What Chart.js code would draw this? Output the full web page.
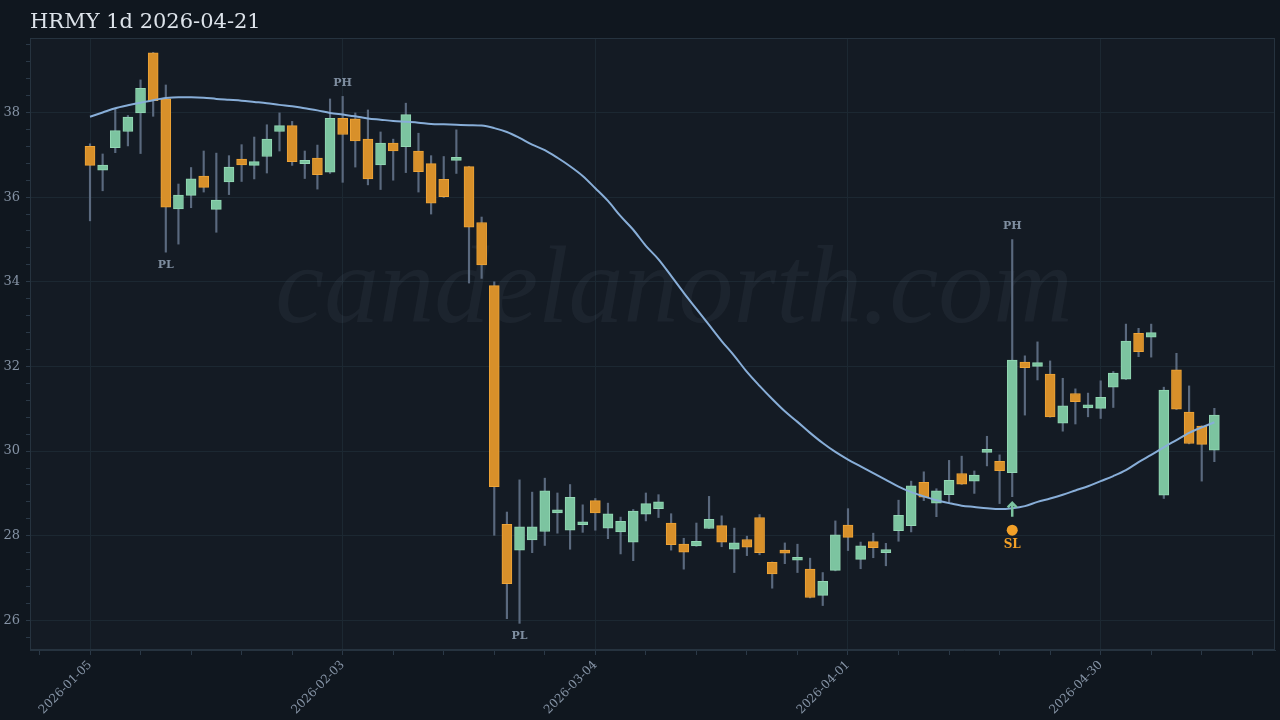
<!DOCTYPE html>
<html>
<head>
<meta charset="utf-8">
<title>HRMY 1d</title>
<script src="https://cdn.jsdelivr.net/npm/chart.js@4.4.1/dist/chart.umd.min.js"></script>
<style>
  html, body { margin: 0; padding: 0; background: #10171f; }
  #wrap { width: 1280px; height: 720px; }
</style>
</head>
<body>
<div id="wrap"><canvas id="chart" width="1280" height="720"></canvas></div>
<script>
// daily candles, index 0 = 2026-01-05 (trading days)
const opens = [
  37.20, 36.64, 37.17, 37.55, 37.99, 39.41, 38.32, 35.72, 36.04, 36.50,
  35.71, 36.36, 36.90, 36.75, 36.96, 37.55, 37.69, 36.79, 36.92, 36.59,
  37.86, 37.85, 37.37, 36.76, 37.28, 37.19, 37.09, 36.79, 36.42, 36.87,
  36.72, 35.40, 33.91, 28.27, 27.66, 27.90, 28.10, 28.54, 28.13, 28.26,
  28.83, 28.18, 28.09, 27.85, 28.51, 28.64, 28.30, 27.80, 27.76, 28.17,
  28.24, 27.68, 27.91, 28.43, 27.37, 27.62, 27.42, 27.21, 26.59, 27.18,
  28.25, 27.44, 27.86, 27.60, 28.12, 28.24, 29.26, 28.77, 28.97, 29.47,
  29.29, 29.97, 29.76, 29.49, 32.10, 32.00, 31.82, 30.66, 31.36, 31.02,
  31.01, 31.51, 31.70, 32.78, 32.69, 28.96, 31.92, 30.92, 30.59, 30.02
];
const highs = [
  37.26, 37.02, 38.09, 37.93, 38.77, 39.42, 38.65, 36.31, 36.70, 37.09,
  37.04, 36.98, 37.24, 37.42, 37.71, 37.99, 37.79, 37.09, 37.23, 38.32,
  38.38, 37.99, 38.06, 37.54, 37.37, 38.22, 37.51, 36.98, 36.96, 37.59,
  36.73, 35.53, 34.00, 28.56, 29.32, 29.03, 29.36, 29.01, 29.21, 28.73,
  28.88, 28.77, 28.44, 28.62, 29.01, 28.97, 28.52, 27.94, 28.30, 28.93,
  28.47, 28.18, 27.99, 28.50, 27.38, 27.83, 27.80, 27.47, 27.13, 28.35,
  28.64, 27.85, 28.06, 27.82, 28.84, 29.29, 29.51, 29.11, 29.78, 29.88,
  29.53, 30.35, 29.91, 35.00, 32.25, 32.58, 32.13, 31.72, 31.47, 31.37,
  31.66, 31.88, 33.00, 32.90, 33.00, 31.51, 32.31, 31.54, 30.60, 31.01
];
const lows = [
  35.44, 36.15, 37.05, 37.21, 37.03, 37.91, 34.70, 34.89, 35.75, 36.12,
  35.17, 36.06, 36.37, 36.43, 36.57, 37.09, 36.75, 36.44, 36.19, 36.56,
  36.35, 36.71, 36.29, 36.18, 36.40, 36.58, 36.12, 35.60, 35.99, 36.56,
  33.97, 34.08, 28.01, 26.04, 25.93, 27.60, 27.77, 28.06, 27.68, 28.08,
  28.13, 27.93, 27.57, 27.41, 28.35, 28.43, 27.66, 27.21, 27.75, 28.17,
  27.74, 27.13, 27.53, 27.55, 26.76, 27.34, 27.13, 26.53, 26.35, 27.17,
  27.65, 27.22, 27.48, 27.29, 27.87, 28.09, 28.83, 28.45, 28.77, 29.21,
  29.00, 29.65, 28.76, 28.92, 30.85, 31.68, 30.80, 30.47, 30.64, 30.81,
  30.77, 31.03, 31.69, 32.23, 32.22, 28.88, 30.98, 30.17, 29.29, 29.75
];
const closes = [
  36.75, 36.76, 37.57, 37.89, 38.57, 38.28, 35.76, 36.05, 36.43, 36.23,
  35.93, 36.71, 36.76, 36.84, 37.37, 37.69, 36.84, 36.87, 36.53, 37.86,
  37.48, 37.33, 36.43, 37.28, 37.09, 37.95, 36.60, 35.86, 36.01, 36.94,
  35.29, 34.40, 29.16, 26.87, 28.21, 28.21, 29.06, 28.57, 28.91, 28.29,
  28.54, 28.52, 28.34, 28.58, 28.76, 28.80, 27.79, 27.61, 27.87, 28.39,
  27.85, 27.83, 27.73, 27.60, 27.10, 27.59, 27.45, 26.54, 26.92, 28.02,
  27.96, 27.76, 27.72, 27.63, 28.48, 29.18, 28.91, 29.06, 29.31, 29.22,
  29.43, 30.00, 29.54, 32.15, 31.97, 32.09, 30.81, 31.07, 31.17, 31.05,
  31.27, 31.84, 32.60, 32.35, 32.80, 31.44, 30.99, 30.18, 30.16, 30.85
];
// moving average
const maLine = [
  37.90, 38.00, 38.10, 38.17, 38.23, 38.29, 38.34, 38.36, 38.36, 38.35,
  38.32, 38.30, 38.28, 38.25, 38.22, 38.18, 38.15, 38.10, 38.05, 37.99,
  37.95, 37.91, 37.86, 37.83, 37.80, 37.78, 37.76, 37.73, 37.72, 37.71,
  37.70, 37.69, 37.63, 37.54, 37.40, 37.24, 37.11, 36.93, 36.73, 36.50,
  36.21, 35.91, 35.55, 35.23, 34.85, 34.53, 34.14, 33.74, 33.36, 32.98,
  32.60, 32.25, 31.87, 31.54, 31.23, 30.94, 30.69, 30.43, 30.19, 29.98,
  29.80, 29.64, 29.48, 29.32, 29.16, 29.03, 28.93, 28.84, 28.77, 28.71,
  28.68, 28.65, 28.63, 28.65, 28.70, 28.80, 28.88, 28.97, 29.07, 29.17,
  29.29, 29.41, 29.55, 29.74, 29.91, 30.09, 30.26, 30.43, 30.56, 30.68
];

const majorTickIdx = [0, 20, 40, 60, 80];
const majorTickLabels = ["2026-01-05", "2026-02-03", "2026-03-04", "2026-04-01", "2026-04-30"];
const xTickIdx = [-4, 0, 4, 8, 12, 16, 20, 24, 28, 32, 36, 40, 44, 48, 52, 56, 60, 64, 68, 72, 76, 80, 84, 88, 92];
const yMajorTicks = [26, 28, 30, 32, 34, 36, 38];

const pivots = [
  { i: 6, type: "PL" },
  { i: 20, type: "PH" },
  { i: 34, type: "PL" },
  { i: 73, type: "PH" }
];
const stopLoss = { i: 73, price: 28.13 };

const UP = "#7cc4a0", UP_EDGE = "#93d8b4";
const DOWN = "#d8902a", DOWN_EDGE = "#eea437";
const GRID = "#1c2832";
const TEXT = "#8593a5";

const isUp = opens.map((o, i) => closes[i] >= o);

// backgrounds, frame and watermark
const backdrop = {
  id: "backdrop",
  beforeDraw(chart) {
    const { ctx, chartArea: a } = chart;
    ctx.save();
    ctx.fillStyle = "#10171f";
    ctx.fillRect(0, 0, chart.width, chart.height);
    ctx.fillStyle = "#141b24";
    ctx.fillRect(a.left, a.top, a.right - a.left, a.bottom - a.top);
    ctx.fillStyle = "#dde3ea";
    ctx.font = '21px "DejaVu Serif"';
    ctx.textBaseline = "alphabetic";
    ctx.fillText("HRMY 1d 2026-04-21", a.left, 28);
    ctx.restore();
  },
  beforeDatasetsDraw(chart) {
    const { ctx, chartArea: a } = chart;
    ctx.save();
    ctx.beginPath();
    ctx.rect(a.left, a.top, a.right - a.left, a.bottom - a.top);
    ctx.clip();
    ctx.fillStyle = "rgba(200,215,230,0.05)";
    ctx.font = 'italic 110px "Liberation Serif"';
    ctx.textAlign = "center";
    ctx.fillText("candelanorth.com", 674, 322);
    ctx.restore();
    ctx.save();
    ctx.strokeStyle = "#26333f";
    ctx.lineWidth = 1;
    ctx.strokeRect(a.left + 0.5, a.top + 0.5, a.right - a.left - 1, a.bottom - a.top - 1);
    ctx.restore();
  }
};

// PH / PL labels and the stop-loss marker
const marks = {
  id: "marks",
  afterDatasetsDraw(chart) {
    const { ctx } = chart;
    const xs = chart.scales.x, ys = chart.scales.y;
    ctx.save();
    ctx.textAlign = "center";
    ctx.textBaseline = "middle";
    ctx.font = 'bold 11px "DejaVu Serif"';
    ctx.fillStyle = "#7f8ea0";
    pivots.forEach(p => {
      const x = xs.getPixelForValue(p.i);
      if (p.type === "PH") ctx.fillText("PH", x, ys.getPixelForValue(highs[p.i]) - 13);
      else ctx.fillText("PL", x, ys.getPixelForValue(lows[p.i]) + 13);
    });

    const x = xs.getPixelForValue(stopLoss.i);
    const yl = ys.getPixelForValue(lows[stopLoss.i]);
    ctx.strokeStyle = UP;
    ctx.lineWidth = 2.5;
    ctx.beginPath();
    ctx.moveTo(x, yl + 20);
    ctx.lineTo(x, yl + 6);
    ctx.moveTo(x - 4.5, yl + 10.5);
    ctx.lineTo(x, yl + 6);
    ctx.lineTo(x + 4.5, yl + 10.5);
    ctx.stroke();

    const ys2 = ys.getPixelForValue(stopLoss.price);
    ctx.fillStyle = "#f2a028";
    ctx.beginPath();
    ctx.arc(x, ys2, 5.5, 0, Math.PI * 2);
    ctx.fill();
    ctx.font = 'bold 12px "DejaVu Serif"';
    ctx.fillText("SL", x, ys2 + 15);
    ctx.restore();
  }
};

const ctx = document.getElementById("chart").getContext("2d");
new Chart(ctx, {
  type: "bar",
  data: {
    datasets: [
      {
        type: "line",
        data: maLine.map((v, i) => ({ x: i, y: v })),
        borderColor: "#88aed8",
        borderWidth: 2,
        pointRadius: 0,
        cubicInterpolationMode: "monotone",
        order: 0
      },
      {
        type: "bar",
        data: opens.map((o, i) => ({ x: i, y: [o, closes[i]] })),
        backgroundColor: isUp.map(u => u ? UP : DOWN),
        borderColor: isUp.map(u => u ? UP_EDGE : DOWN_EDGE),
        borderWidth: 1,
        borderSkipped: false,
        barThickness: 10,
        minBarLength: 3,
        grouped: false,
        order: 1
      },
      {
        type: "bar",
        data: lows.map((l, i) => ({ x: i, y: [l, highs[i]] })),
        backgroundColor: "#5a697e",
        barThickness: 1.5,
        grouped: false,
        order: 2
      }
    ]
  },
  options: {
    responsive: false,
    animation: false,
    layout: { padding: { top: 38, right: 5, left: 0, bottom: 0 } },
    plugins: { legend: { display: false }, tooltip: { enabled: false } },
    scales: {
      x: {
        type: "linear",
        min: -4.75,
        max: 93.8,
        offset: false,
        afterBuildTicks: s => { s.ticks = xTickIdx.map(v => ({ value: v })); },
        afterFit: s => { s.height = 70; },
        ticks: {
          autoSkip: false,
          minRotation: 45,
          maxRotation: 45,
          padding: 3,
          color: TEXT,
          font: { family: "DejaVu Serif", size: 12 },
          callback: v => {
            const k = majorTickIdx.indexOf(v);
            return k >= 0 ? majorTickLabels[k] : "";
          }
        },
        grid: {
          offset: false,
          color: c => (c.tick && majorTickIdx.includes(c.tick.value)) ? GRID : "rgba(0,0,0,0)",
          tickColor: "#2b3947",
          tickLength: 5
        },
        border: { color: "#26333f" }
      },
      y: {
        type: "linear",
        min: 25.3,
        max: 39.76,
        afterBuildTicks: s => {
          const t = [];
          for (let k = 0; k <= 35; k++) t.push({ value: Math.round((25.6 + 0.4 * k) * 10) / 10 });
          s.ticks = t;
        },
        afterFit: s => { s.width = 30; },
        ticks: {
          autoSkip: false,
          padding: 6,
          color: TEXT,
          font: { family: "DejaVu Serif", size: 13 },
          callback: v => yMajorTicks.includes(v) ? String(v) : ""
        },
        grid: {
          color: c => (c.tick && yMajorTicks.includes(c.tick.value)) ? GRID : "rgba(0,0,0,0)",
          tickColor: "#2b3947",
          tickLength: 4
        },
        border: { color: "#26333f" }
      }
    }
  },
  plugins: [backdrop, marks]
});
</script>
</body>
</html>
